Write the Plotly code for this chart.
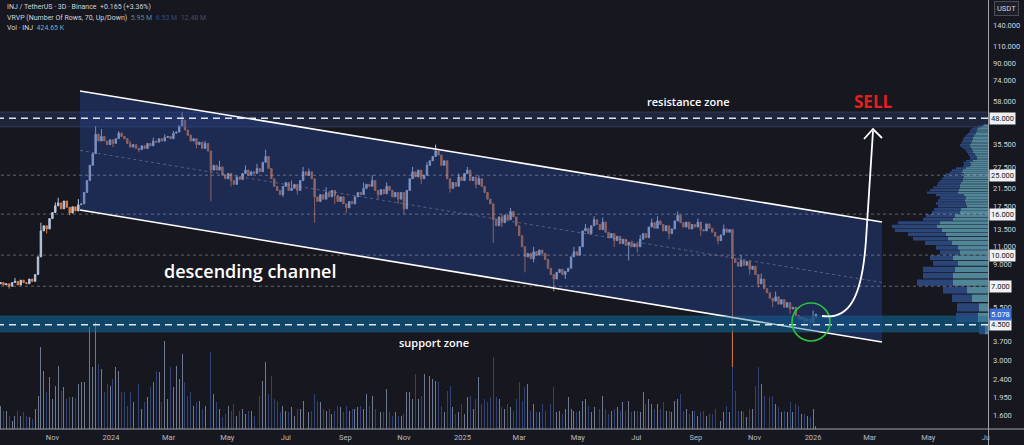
import numpy as np
import pandas as pd
import plotly.graph_objects as go

# ------------------------------------------------------------------ data
start_date = "2023-09-08"          # first 3-day candle
first_open = 7.2
closes = [
    7.3, 7.1, 7.2, 7.0, 7.3, 7.4, 7.1, 7.5, 7.3, 7.2, 7.6, 7.4,
    8.0, 9.8, 13.2, 14.0, 13.5, 15.2, 16.3, 17.6, 18.2, 17.0, 18.6, 17.3, 16.2, 17.4, 16.6, 17.8,
    18.0, 20.5, 23.5, 28.0, 32.0, 40.0, 37.0,
    39, 37, 35.5, 37.5, 36, 38, 40.5, 39, 38, 36, 34.5, 35.5, 34, 33.5, 35, 34, 36, 35, 37, 36.5,
    38, 37, 38.5, 39, 38, 40.5, 41,
    44, 47, 42, 39.5, 37, 38, 35.5, 36.5, 34, 36, 33,
    26.5,
    28, 26.5, 27.5, 25, 24, 25.5, 23.5, 22.5, 24.5, 23.8,
    25.5, 26.5, 25, 26, 25.5, 27, 26, 29, 31,
    27, 24, 22, 21, 20, 22, 23, 21,
    21.5, 22.5, 21, 23.5, 26, 25, 26, 24,
    19.5,
    18.5, 20, 19, 20.5, 19.5, 21, 19.8, 18.5, 19.5, 18,
    17.2,
    18.5, 18, 19.5, 20.5, 20, 21.5, 22.5, 22, 23.5, 21, 20, 21.2, 20.2, 22, 21, 19.5, 20.5, 19, 20.5,
    17.0,
    21, 24, 26, 24.5, 26.5, 24, 25, 28, 29.5, 31, 33, 31.5, 28, 29.5,
    24, 21.5, 23, 22, 24.5, 23.5, 25.5, 26.5, 23.5, 24.5, 22.5, 24, 22, 20.5, 19, 18,
    15.0,
    14, 15.5, 14.5, 15.8, 15, 16.5, 15.5, 14, 12.5, 11,
    9.8,
    10.2, 9.6, 10.4, 10, 10.6, 10.2, 9.5, 8.6, 8.0,
    7.6,
    8.2, 8.5, 8.0, 8.3, 8.6, 9.8, 10.4, 10.0, 11.0, 13.2, 13.6, 12.8, 14.0, 15.0, 14.2, 13.4,
    14.6, 13.0, 12.2, 12.8, 11.8, 12.4, 11.4, 12.0, 11.2,
    11.6,
    11.0, 11.4, 11.0, 12.0, 12.8, 12.2, 13.8, 14.5, 13.6, 14.8, 14.2, 13.2, 14.0, 12.8, 13.5,
    14.8, 15.8, 14.5, 13.8, 14.6, 13.5, 14.2, 13.8, 14.6, 13.4, 13.2, 14.3, 13.6, 13.0, 12.4,
    11.8, 12.6, 13.5, 13.0, 13.4,
    9.6,
    9.2, 8.8, 9.4, 8.9, 9.3, 8.5, 8.8, 8.0, 7.2, 7.6, 6.8, 6.5, 6.1, 5.9, 6.2, 5.7, 6.0, 5.5,
    5.8, 5.4, 5.5, 5.0, 4.8, 4.9, 4.7, 4.8, 4.6, 4.9, 5.078,
]
# candle highs / lows where a wick sticks out of the body
wick_high = {5: 7.7, 14: 14.5, 19: 18.3, 20: 19.3, 27: 19.0, 33: 44.0, 35: 42.5, 41: 41.5,
             45: 37.0, 53: 38.5, 57: 40.0, 60: 41.5, 63: 51.5, 66: 40.0, 71: 37.0, 76: 29.5,
             85: 28.0, 89: 28.5, 92: 33.5, 101: 23.5, 105: 27.5, 107: 27.0, 113: 21.8, 126: 23.0,
             129: 25.0, 134: 23.0, 143: 27.5, 148: 29.0, 151: 35.5, 159: 25.5, 162: 27.5,
             166: 25.0, 174: 16.0, 177: 17.2, 185: 11.0, 199: 11.0, 203: 14.3, 206: 15.6,
             209: 15.4, 222: 12.6, 226: 15.2, 228: 15.6, 235: 16.5, 242: 15.2, 251: 14.2,
             257: 10.0, 264: 8.1, 269: 6.6, 282: 5.3}
wick_low = {3: 6.8, 16: 12.8, 24: 15.8, 39: 34.5, 48: 32.5, 68: 34.0, 73: 18.5, 80: 22.0,
            98: 19.5, 103: 20.0, 109: 14.5, 116: 18.0, 120: 16.2, 131: 19.0, 138: 18.0,
            140: 16.0, 146: 22.5, 156: 20.5, 165: 21.5, 171: 11.5, 174: 13.8, 182: 8.2,
            185: 9.2, 192: 6.6, 196: 7.6, 213: 11.0, 218: 9.4, 221: 10.3, 232: 12.0, 243: 12.5,
            249: 11.3, 254: 2.77, 260: 8.0, 263: 6.9, 268: 5.5, 274: 5.1, 279: 4.4, 281: 4.3}

# volume per candle (relative units, ~141.5K INJ each)
volume_rel = [
    23, 18, 18, 13, 8, 13, 18, 13, 17, 13, 12, 10,
    20, 33, 82, 58, 37, 52, 30, 43, 63, 38, 42, 30, 32, 32, 31, 45, 47, 47,
    82, 102, 62, 107, 65, 60, 37, 45, 43, 50, 62, 58, 37, 37, 23, 37,
    27, 20, 45, 20, 27, 32, 42, 47, 58, 57, 27, 88, 30, 62, 42, 63,
    50, 75, 47, 33, 37, 23, 27, 28, 20, 23, 32, 77, 35, 27, 20, 12,
    15, 23, 18, 25, 13, 18, 20, 15, 18, 18, 13, 13, 33, 48, 67, 35,
    53, 30, 28, 17, 23, 18, 17, 22, 13, 20, 20, 28, 22, 17, 18, 35,
    28, 27, 20, 18, 20, 15, 18, 23, 22, 17, 23, 18, 20, 20, 22, 23,
    20, 35, 23, 33, 20, 17, 17, 17, 40, 17, 13, 17, 13, 13, 15, 37, 37,
    30, 55, 30, 33, 55, 25, 53, 50, 48, 47, 23, 17, 38, 43, 22, 15,
    17, 25, 15, 32, 33, 20, 30, 52, 25, 30, 27, 32, 72, 32, 30, 22,
    20, 25, 22, 18, 30, 47, 28, 42, 45, 18, 25, 17, 17, 25, 18, 17,
    25, 42, 17, 18, 15, 20, 32, 20, 18, 17, 18, 28, 30, 23, 17, 22,
    37, 20, 33, 20, 15, 18, 20, 22, 18, 27, 18, 28, 17, 18, 18, 17,
    37, 25, 30, 25, 20, 25, 20, 27, 18, 18, 17, 28, 30, 35, 18, 20,
    15, 18, 18, 13, 17, 18, 13, 15, 15, 20, 12, 8, 17, 23, 17, 62,
    38, 18, 18, 17, 12, 20, 20, 43, 62, 45, 33, 20, 32, 33, 25, 22,
    17, 18, 17, 27, 17, 25, 23, 15, 15, 13, 12, 20, 3,
]

# visible-range volume profile: 70 rows, up / down volume (relative)
vp_bottom = 2.8
vp_step = 0.6
vp_up = [0, 0, 3, 10, 9, 16, 21, 35, 35, 33,
         30, 35, 28, 30, 36, 40, 42, 46, 51, 48,
         35, 33, 28, 27, 21, 22, 23, 22, 24, 30,
         29, 28, 28, 27, 25, 25, 24, 24, 26, 25,
         22, 18, 17, 18, 15, 11, 11, 12, 13, 15,
         15, 16, 17, 18, 18, 17, 16, 16, 15, 15,
         14, 14, 12, 12, 11, 11, 10, 9, 6, 4]
vp_down = [0, 0, 6, 22, 22, 20, 24, 36, 30, 32,
           25, 23, 20, 22, 27, 35, 38, 47, 45, 42,
           30, 29, 28, 27, 29, 30, 27, 26, 28, 31,
           29, 27, 23, 23, 23, 21, 20, 18, 12, 11,
           10, 7, 7, 7, 7, 7, 7, 7, 7, 6,
           7, 8, 9, 10, 10, 10, 10, 9, 10, 9,
           9, 8, 8, 7, 7, 7, 6, 5, 4, 2]

price_ticks = [140, 110, 90, 74, 58, 35.5, 27.5, 21.5, 17.5, 13.5, 11, 9, 5.5, 3.7, 3.0, 2.4, 1.95, 1.6]
gray_levels = [25, 16, 10, 7]
white_levels = [48, 4.5]
last_price = 5.078
month_ticks = ["2023-11-01", "2024-01-01", "2024-03-01", "2024-05-01", "2024-07-01", "2024-09-01",
               "2024-11-01", "2025-01-01", "2025-03-01", "2025-05-01", "2025-07-01", "2025-09-01",
               "2025-11-01", "2026-01-01", "2026-03-01", "2026-05-01", "2026-07-01"]
month_labels = ["Nov", "2024", "Mar", "May", "Jul", "Sep", "Nov", "2025", "Mar", "May", "Jul",
                "Sep", "Nov", "2026", "Mar", "May", "Jul"]

# drawing anchors (date, price)
ch_dates = ["2023-11-29 17:00", "2026-03-13 17:00"]
ch_top = [65.7, 14.62]
ch_bot = [16.76, 3.69]
ch_mid = [33.2, 7.31]
resistance_zone = (43.5, 51.6)
support_zone = (4.14, 4.98)

# ------------------------------------------------------------------ derived
dates = pd.date_range(start_date, periods=len(closes), freq="3D")
opens = [first_open] + closes[:-1]
highs = [max(wick_high.get(i, 0), o, c) for i, (o, c) in enumerate(zip(opens, closes))]
lows = [min(wick_low.get(i, 1e9), o, c) for i, (o, c) in enumerate(zip(opens, closes))]

BG = "#17171f"
UP = "#b8c7e2"
DN = "#d8793f"
X_RANGE = ["2023-09-07 10:00", "2026-07-02 03:00"]
Y_RANGE = [0.1340, 2.2705]
PW, PH = 988, 429


def pxx(x):
    return x / PW


def pxy(y):
    return 1 - y / PH


fig = go.Figure()

# zones (under candles)
for lo, hi, fc, lc in [(resistance_zone[0], resistance_zone[1], "rgba(50,75,140,0.28)", "rgba(110,130,180,0.35)"),
                       (support_zone[0], support_zone[1], "rgba(14,85,125,0.62)", "rgba(60,120,160,0.4)")]:
    fig.add_trace(go.Scatter(x=[X_RANGE[0], X_RANGE[1], X_RANGE[1], X_RANGE[0], X_RANGE[0]],
                             y=[lo, lo, hi, hi, lo], mode="lines", fill="toself", fillcolor=fc,
                             line=dict(width=0), hoverinfo="skip", showlegend=False))
    for v in (lo, hi):
        fig.add_trace(go.Scatter(x=X_RANGE, y=[v, v], mode="lines", line=dict(color=lc, width=0.8),
                                 hoverinfo="skip", showlegend=False))

# channel fill
fig.add_trace(go.Scatter(x=[ch_dates[0], ch_dates[1], ch_dates[1], ch_dates[0], ch_dates[0]],
                         y=[ch_top[0], ch_top[1], ch_bot[1], ch_bot[0], ch_top[0]],
                         mode="lines", fill="toself", fillcolor="rgba(38,68,150,0.42)",
                         line=dict(width=0), hoverinfo="skip", showlegend=False))
fig.add_trace(go.Scatter(x=ch_dates, y=ch_mid, mode="lines",
                         line=dict(color="rgba(170,175,195,0.5)", width=0.8, dash="3px,3px"),
                         hoverinfo="skip", showlegend=False))

# candles
fig.add_trace(go.Candlestick(x=dates, open=opens, high=highs, low=lows, close=closes,
                             increasing=dict(line=dict(color=UP, width=1), fillcolor=UP),
                             decreasing=dict(line=dict(color=DN, width=1), fillcolor=DN),
                             whiskerwidth=0, hoverinfo="skip", showlegend=False))

# channel borders
for ys in (ch_top, ch_bot):
    fig.add_trace(go.Scatter(x=ch_dates, y=ys, mode="lines", line=dict(color="white", width=1.6),
                             hoverinfo="skip", showlegend=False))

# volume
vol_colors = ["rgba(140,155,185,0.75)" if c >= o else "rgba(52,72,125,0.9)" for o, c in zip(opens, closes)]
fig.add_trace(go.Bar(x=dates, y=volume_rel, yaxis="y2", marker=dict(color=vol_colors, line=dict(width=0)),
                     width=86400000 * 1.0, hoverinfo="skip", showlegend=False))

# volume profile (x2 reversed so it grows from the right edge)
def vp_polys(starts, ends):
    xs, ys = [], []
    for k, (a, b) in enumerate(zip(starts, ends)):
        if b <= a:
            continue
        lo = vp_bottom + k * vp_step + 0.04
        hi = vp_bottom + (k + 1) * vp_step - 0.04
        xs += [a, b, b, a, a, None]
        ys += [lo, lo, hi, hi, lo, None]
    return xs, ys

up_end = list(vp_up)
tot_end = [u + d for u, d in zip(vp_up, vp_down)]
xs, ys = vp_polys([0] * len(vp_up), up_end)
fig.add_trace(go.Scatter(x=xs, y=ys, xaxis="x2", mode="lines", fill="toself", fillcolor="rgba(94,157,179,0.82)",
                         line=dict(width=0), hoverinfo="skip", showlegend=False))
xs, ys = vp_polys(up_end, tot_end)
fig.add_trace(go.Scatter(x=xs, y=ys, xaxis="x2", mode="lines", fill="toself", fillcolor="rgba(46,76,133,0.88)",
                         line=dict(width=0), hoverinfo="skip", showlegend=False))
# support band drawn again lightly over the profile
fig.add_trace(go.Scatter(x=[0, PW, PW, 0, 0], y=[support_zone[0]] * 2 + [support_zone[1]] * 2 + [support_zone[0]],
                         xaxis="x2", mode="lines", fill="toself", fillcolor="rgba(14,85,125,0.35)",
                         line=dict(width=0), hoverinfo="skip", showlegend=False))

# level lines (full width, on top)
for v in gray_levels:
    fig.add_trace(go.Scatter(x=[0, PW], y=[v, v], xaxis="x2", mode="lines",
                             line=dict(color="rgba(200,202,212,0.55)", width=0.8, dash="3px,3px"),
                             hoverinfo="skip", showlegend=False))
for v in white_levels:
    fig.add_trace(go.Scatter(x=[0, PW], y=[v, v], xaxis="x2", mode="lines",
                             line=dict(color="rgba(235,238,245,0.95)", width=1.6, dash="7px,5px"),
                             hoverinfo="skip", showlegend=False))

annotations = []
# right price labels in boxes
for v in gray_levels + white_levels:
    annotations.append(dict(xref="paper", yref="y", x=1, y=np.log10(v), xanchor="left", yanchor="middle",
                            xshift=1, text=f"{v:.3f}", showarrow=False, bgcolor="#f0f1f4",
                            font=dict(size=7.5, color="#131722"), borderpad=1))
annotations.append(dict(xref="paper", yref="y", x=1, y=np.log10(last_price), xanchor="left", yanchor="middle",
                        xshift=1, text=f"{last_price:.3f}", showarrow=False, bgcolor="#3b6fd4",
                        font=dict(size=7.5, color="white"), borderpad=1))
annotations.append(dict(xref="paper", yref="paper", x=pxx(1007), y=pxy(9), xanchor="center", yanchor="middle",
                        text="USDT", showarrow=False, bgcolor="#1e1f29", bordercolor="#4a4c57", borderwidth=1,
                        borderpad=2, font=dict(size=7.5, color="#d1d4dc")))
# header
hdr = [
    (7, "INJ / TetherUS · 3D · Binance  +0.165 (+3.36%)"),
    (18, "VRVP (Number Of Rows, 70, Up/Down)  <span style='color:#4f8aa0'>5.95 M</span>  "
         "<span style='color:#2e4a7d'>6.53 M</span>  <span style='color:#4a4c57'>12.48 M</span>"),
    (28, "Vol · INJ  <span style='color:#63b2c9'>424.65 K</span>"),
]
for y, t in hdr:
    annotations.append(dict(xref="paper", yref="paper", x=pxx(5), y=pxy(y), xanchor="left", yanchor="middle",
                            text=t, showarrow=False, font=dict(size=7, color="#d1d4dc")))
# chart texts
for (x, y, t, size, color, weight) in [
        (250, 271, "descending channel", 18, "white", 600),
        (688, 102, "resistance zone", 11, "white", 600),
        (434, 342, "support zone", 11, "white", 600),
        (873, 102, "SELL", 17, "#e3201c", 700)]:
    annotations.append(dict(xref="paper", yref="paper", x=pxx(x), y=pxy(y), xanchor="center", yanchor="middle",
                            text=t, showarrow=False,
                            font=dict(size=size, color=color, family="Open Sans", weight=weight)))


def path(pts, cmd):
    return cmd.format(*[v for (x, y) in pts for v in (pxx(x), pxy(y))])


shapes = [
    dict(type="circle", xref="paper", yref="paper", x0=pxx(792), x1=pxx(830), y0=pxy(341), y1=pxy(303),
         line=dict(color="#2bc23c", width=1.6)),
    dict(type="path", xref="paper", yref="paper",
         path=path([(822, 316), (848, 320), (862, 300), (866, 240), (872, 150), (873, 131)],
                   "M {} {} C {} {}, {} {}, {} {} S {} {}, {} {}"),
         line=dict(color="white", width=1.8)),
    dict(type="path", xref="paper", yref="paper",
         path=path([(864, 139), (873, 129), (882, 138)], "M {} {} L {} {} L {} {}"),
         line=dict(color="white", width=1.8)),
    # cover the time-axis strip under the price scale
    dict(type="rect", xref="paper", yref="paper", x0=pxx(989.5), x1=pxx(1030), y0=pxy(429.5), y1=pxy(450),
         fillcolor=BG, line=dict(width=0), layer="above"),
    dict(type="line", xref="paper", yref="paper", x0=pxx(988.5), x1=pxx(988.5), y0=pxy(0), y1=pxy(450),
         line=dict(color="#a0a3ab", width=1), layer="above"),
    dict(type="line", xref="paper", yref="paper", x0=0, x1=pxx(1030), y0=pxy(429), y1=pxy(429),
         line=dict(color="#a0a3ab", width=1), layer="above"),
]

fig.update_layout(
    width=1024, height=445,
    margin=dict(l=0, r=36, t=0, b=16),
    paper_bgcolor=BG, plot_bgcolor=BG,
    font=dict(family="Roboto", color="#d1d4dc", size=8),
    showlegend=False, hovermode=False, bargap=0,
    xaxis=dict(type="date", range=X_RANGE, tickvals=month_ticks, ticktext=month_labels,
               showgrid=False, zeroline=False, showline=False, ticks="",
               tickfont=dict(size=7.5, color="#b8bbc4"), ticklabelstandoff=2,
               rangeslider=dict(visible=False), fixedrange=True),
    xaxis2=dict(overlaying="x", range=[PW, 0], visible=False, fixedrange=True),
    yaxis=dict(type="log", range=Y_RANGE, side="right", tickvals=price_ticks,
               ticktext=[f"{v:.3f}" for v in price_ticks], showgrid=False, zeroline=False,
               showline=False, ticks="", tickfont=dict(size=7.5, color="#d1d4dc"),
               ticklabelstandoff=4, fixedrange=True),
    yaxis2=dict(overlaying="y", range=[0, PH], visible=False, fixedrange=True),
    annotations=annotations,
    shapes=shapes,
)

fig.write_html("out.html", config={"displayModeBar": False, "staticPlot": True},
               post_script="document.body.style.margin='0';document.body.style.background='" + BG + "';")
